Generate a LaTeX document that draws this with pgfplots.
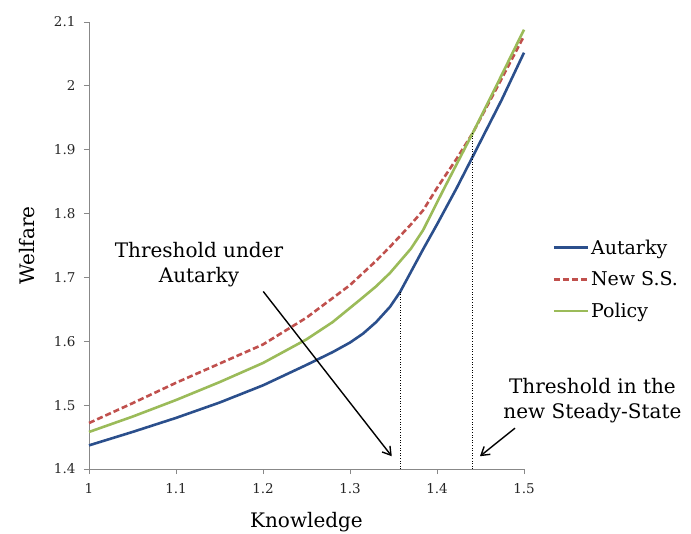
\documentclass[border=0pt]{standalone}
\usepackage{pgfplots}
\pgfplotsset{compat=1.18}
\usepackage{fontspec}
\setmainfont{DejaVu Serif}
\usetikzlibrary{arrows.meta}
\definecolor{cBlue}{HTML}{2B4F8C}
\definecolor{cRed}{HTML}{C0504D}
\definecolor{cGreen}{HTML}{9BBB59}
\definecolor{axgray}{HTML}{888888}
\begin{document}
\begin{tikzpicture}[x=1pt,y=1pt]
\useasboundingbox (-89,-64) rectangle (602,469);
\begin{axis}[
  at={(0,0)}, anchor=south west,
  scale only axis, width=435pt, height=447pt,
  xmin=1, xmax=1.5, ymin=1.4, ymax=2.1,
  clip=false,
  axis x line*=bottom, axis y line*=left,
  axis line style={axgray, line width=0.8pt, -},
  tick style={axgray, line width=0.8pt},
  tick align=outside, major tick length=5pt,
  xtick={1,1.1,1.2,1.3,1.4,1.5},
  ytick={1.4,1.5,1.6,1.7,1.8,1.9,2,2.1},
  /pgf/number format/assume math mode=true,
  /pgf/number format/fixed,
  tick label style={font=\fontsize{13.5}{16}\selectfont, text=black!85},
  xticklabel style={yshift=-6pt},
  yticklabel style={xshift=-5pt},
  xlabel={Knowledge}, ylabel={Welfare},
  label style={font=\fontsize{20}{24}\selectfont},
  xlabel style={at={(axis description cs:0.5,-0.118)}, anchor=center},
  ylabel style={at={(axis description cs:-0.1425,0.5)}, anchor=center},
  legend style={at={(axis description cs:1.065,0.518)}, anchor=north west,
    draw=none, fill=none, font=\fontsize{19}{22}\selectfont, row sep=12pt,
    inner sep=0pt},
  legend cell align=left,
  legend image code/.code={\draw[#1] (0pt,0pt) -- (34pt,0pt);},
]
\addplot[cBlue, line width=2.6pt] coordinates {
(1.00,1.437) (1.05,1.458) (1.10,1.480) (1.15,1.504) (1.20,1.531)
(1.25,1.563) (1.28,1.583) (1.30,1.598) (1.315,1.612) (1.33,1.630) (1.346,1.654) (1.3575,1.677)
(1.384,1.744) (1.40,1.783) (1.4226,1.840) (1.441,1.889) (1.4743,1.978) (1.50,2.052)};
\addlegendentry{Autarky}
\addplot[cRed, line width=2.6pt, dash pattern=on 6pt off 3pt] coordinates {
(1.00,1.472) (1.05,1.503) (1.10,1.535) (1.15,1.565) (1.20,1.595)
(1.25,1.637) (1.30,1.688) (1.33,1.726) (1.346,1.748) (1.37,1.783) (1.384,1.805)
(1.40,1.840) (1.4226,1.886) (1.441,1.926) (1.47,2.000) (1.50,2.078)};
\addlegendentry{New S.S.}
\addplot[cGreen, line width=2.6pt] coordinates {
(1.00,1.458) (1.05,1.482) (1.10,1.508) (1.15,1.536) (1.20,1.566)
(1.25,1.603) (1.28,1.630) (1.3115,1.665) (1.33,1.686) (1.346,1.707) (1.37,1.745) (1.384,1.774)
(1.4073,1.837) (1.441,1.926) (1.47,2.005) (1.50,2.088)};
\addlegendentry{Policy}
\addplot[forget plot, black, dotted, line width=0.6pt] coordinates {(1.3575,1.4) (1.3575,1.677)};
\addplot[forget plot, black, dotted, line width=0.6pt] coordinates {(1.441,1.4) (1.441,1.926)};
\node[align=center, font=\fontsize{20}{25}\selectfont] at (axis cs:1.1264,1.72) {Threshold under\\Autarky};
\draw[-{Straight Barb[length=8pt,width=10pt]}, line width=1.4pt] (axis cs:1.2003,1.678) -- (axis cs:1.348,1.42);
\node[align=center, font=\fontsize{20}{25}\selectfont] at (axis cs:1.5787,1.5075) {Threshold in the\\new Steady-State};
\draw[-{Straight Barb[length=8pt,width=10pt]}, line width=1.4pt] (axis cs:1.4897,1.464) -- (axis cs:1.4494,1.42);
\end{axis}
\end{tikzpicture}
\end{document}
